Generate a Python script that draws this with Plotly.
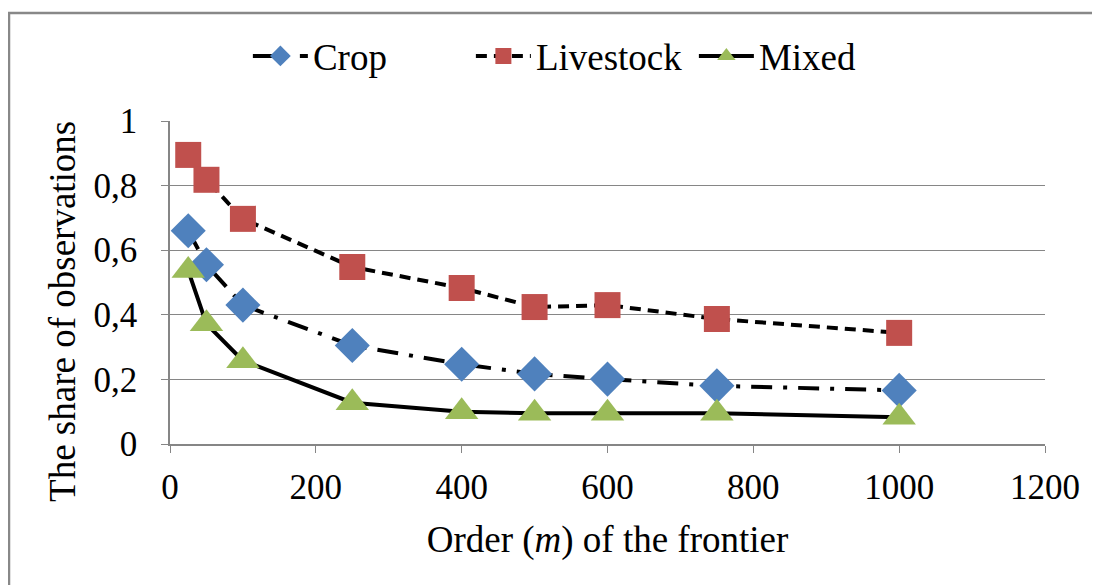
import plotly.graph_objects as go

order_m = [25, 50, 100, 250, 400, 500, 600, 750, 1000]
crop = [0.66, 0.555, 0.43, 0.305, 0.247, 0.217, 0.201, 0.18, 0.166]
livestock = [0.895, 0.818, 0.697, 0.548, 0.483, 0.424, 0.43, 0.387, 0.344]
mixed = [0.537, 0.372, 0.258, 0.128, 0.1, 0.095, 0.095, 0.095, 0.083]

y_tickvals = [0, 0.2, 0.4, 0.6, 0.8, 1]
y_ticktext = ["0", "0,2", "0,4", "0,6", "0,8", "1"]
x_tickvals = [0, 200, 400, 600, 800, 1000, 1200]

FONT = "Liberation Serif, Times New Roman, serif"

fig = go.Figure()
fig.add_trace(go.Scatter(
    x=order_m, y=crop, name="Crop", mode="lines+markers",
    line=dict(color="black", width=4, dash="21px,11px,4px,11px"),
    marker=dict(symbol="diamond", size=27, color="#4F81BD", line=dict(width=0)),
))
fig.add_trace(go.Scatter(
    x=order_m, y=livestock, name="Livestock", mode="lines+markers",
    line=dict(color="black", width=4, dash="11px,7px"),
    marker=dict(symbol="square", size=26, color="#C0504D", line=dict(width=0)),
))
fig.add_trace(go.Scatter(
    x=order_m, y=mixed, name="Mixed", mode="lines+markers",
    line=dict(color="black", width=4),
    marker=dict(symbol="triangle-up", size=29, color="#9BBB59", line=dict(width=0)),
))

fig.update_layout(
    template="none",
    width=1092, height=577,
    margin=dict(l=162, r=55, t=113, b=141, autoexpand=False),
    paper_bgcolor="white", plot_bgcolor="white",
    font=dict(family=FONT, size=35, color="black"),
    showlegend=True,
    legend=dict(orientation="h", x=0.089, xanchor="left", y=1.20, yanchor="middle",
                font=dict(family=FONT, size=37, color="black"),
                itemwidth=55, entrywidth=153, entrywidthmode="pixels",
                traceorder="normal", bgcolor="rgba(0,0,0,0)", borderwidth=0),
    xaxis=dict(range=[0, 1200], tickvals=x_tickvals, showgrid=False,
               showline=True, linecolor="#868686", linewidth=1.5,
               ticks="outside", ticklen=7, tickcolor="#868686", tickwidth=1.2,
               ticklabelstandoff=4,
               tickfont=dict(family=FONT, size=35, color="black"), zeroline=False,
               title=dict(text="Order (<i>m</i>) of the frontier",
                          font=dict(family=FONT, size=37, color="black"), standoff=20)),
    yaxis=dict(range=[0, 1], tickvals=y_tickvals, ticktext=y_ticktext,
               showgrid=True, gridcolor="#868686", gridwidth=1.2,
               showline=True, linecolor="#868686", linewidth=1.5,
               ticks="outside", ticklen=7, tickcolor="#868686", tickwidth=1.2,
               ticklabelstandoff=17,
               tickfont=dict(family=FONT, size=35, color="black"), zeroline=False),
    annotations=[dict(text="The share of observations", xref="paper", yref="paper",
                      x=-0.1223, y=0.412, textangle=-90, showarrow=False,
                      xanchor="center", yanchor="middle",
                      font=dict(family=FONT, size=37, color="black"))],
    shapes=[dict(type="rect", xref="paper", yref="paper",
                 x0=-0.184, x1=1.1, y0=-0.5, y1=1.334,
                 line=dict(color="#888888", width=2.5), fillcolor="rgba(0,0,0,0)", layer="below")],
)

fig.write_html("out.html")
